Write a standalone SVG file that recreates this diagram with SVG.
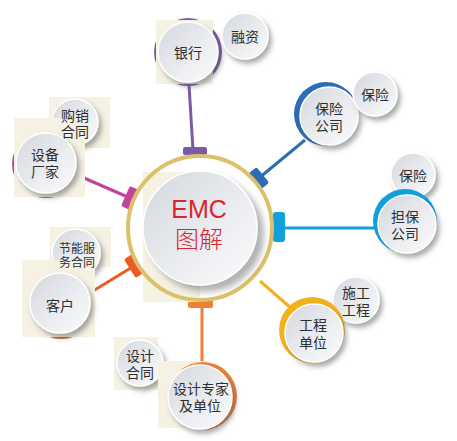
<svg xmlns="http://www.w3.org/2000/svg" width="457" height="441" viewBox="0 0 457 441">
<defs>
<linearGradient id="g" x1="0" y1="0" x2="1" y2="1">
<stop offset="0" stop-color="#d4d7dd"/>
<stop offset="0.6" stop-color="#eceef1"/>
<stop offset="1" stop-color="#fafbfc"/>
</linearGradient>
<filter id="sh" x="-30%" y="-30%" width="170%" height="170%">
<feDropShadow dx="3" dy="4" stdDeviation="2.5" flood-color="#555" flood-opacity="0.5"/>
</filter>
<filter id="shb" x="-30%" y="-30%" width="170%" height="170%">
<feDropShadow dx="6" dy="6" stdDeviation="3" flood-color="#666" flood-opacity="0.5"/>
</filter>
<clipPath id="cpA"><path clip-rule="evenodd" d="M0 0H457V441H0Z M14 118H85V197H14Z"/></clipPath>
<clipPath id="cpB"><path clip-rule="evenodd" d="M0 0H457V441H0Z M22 260H95V337H22Z"/></clipPath>
<clipPath id="cpC"><path clip-rule="evenodd" d="M0 0H457V441H0Z M158 361H208V428H158Z"/></clipPath>
<style>
.c{fill:url(#g);stroke:#fff;stroke-width:1.5;filter:url(#sh)}
.bg{fill:#f5f1e3}
.t{font-family:"Noto Sans CJK SC","Noto Sans",sans-serif;font-size:14px;fill:#2e2e2e;text-anchor:middle;dominant-baseline:central}
.s{font-size:12px}
.ln{stroke-width:3;fill:none}
</style>
</defs>

<g id="connectors">
<line class="ln" x1="189" y1="85" x2="193" y2="150" stroke="#7a5aa5"/>
<rect x="183" y="147" width="24" height="8" rx="2" fill="#7a5aa5"/>
<line class="ln" x1="305" y1="140" x2="259" y2="178" stroke="#2b6cb5"/>
<rect x="-5" y="-10" width="10" height="20" rx="2" fill="#2b6cb5" transform="translate(259 178) rotate(-39)"/>
<line class="ln" x1="284" y1="228" x2="375" y2="228" stroke="#12a0dc"/>
<rect x="273" y="212" width="12" height="30" rx="3" fill="#12a0dc"/>
<line class="ln" x1="260" y1="281" x2="292" y2="309" stroke="#f4b11e"/>
<line class="ln" x1="202" y1="306" x2="202" y2="365" stroke="#f08035"/>
<rect x="188" y="300" width="25" height="8" rx="2" fill="#f08035"/>
<line class="ln" x1="134" y1="266" x2="93" y2="291" stroke="#ee5a24"/>
<rect x="-5" y="-11" width="10" height="22" rx="2" fill="#ee5a24" transform="translate(134 266) rotate(-32)"/>
<line class="ln" x1="130" y1="198" x2="84" y2="178" stroke="#c2449a"/>
<rect x="-5" y="-11" width="10" height="22" rx="2" fill="#c2449a" transform="translate(130 198) rotate(24)"/>
</g>

<g id="center">
<circle cx="200" cy="228" r="72" fill="#fff"/>
<rect class="bg" x="143" y="172" width="57" height="130"/>
<circle cx="200" cy="228" r="72" fill="none" stroke="#dcc06a" stroke-width="4"/>
<circle cx="200" cy="228" r="57" fill="url(#g)" stroke="#fff" stroke-width="1.5" filter="url(#shb)"/>
<text text-anchor="middle" fill="#d9262e"><tspan x="199" y="218" font-family="'Liberation Sans',sans-serif" font-size="25">EMC</tspan><tspan x="199" y="248" font-family="'Noto Sans CJK SC',sans-serif" font-weight="300" font-size="24">图解</tspan></text>
</g>

<g id="bank">
<circle cx="188" cy="52" r="34" fill="#7a5aa5"/>
<rect class="bg" x="156" y="20" width="57" height="64"/>
<circle class="c" cx="188" cy="52" r="30"/>
<text class="t" x="188" y="52">银行</text>
</g>
<g id="financing">
<circle class="c" cx="245" cy="36" r="23"/>
<text class="t" x="245" y="36">融资</text>
</g>

<g id="insurance-company">
<circle cx="326" cy="114" r="32" fill="#2b6cb5"/>
<circle class="c" cx="329" cy="116" r="29"/>
<text class="t"><tspan x="329" y="108">保险</tspan><tspan x="329" y="125">公司</tspan></text>
</g>
<g id="insurance-1">
<circle class="c" cx="375" cy="94" r="22"/>
<text class="t" x="375" y="94">保险</text>
</g>

<g id="insurance-2">
<circle class="c" cx="413" cy="175" r="22"/>
<text class="t" x="413" y="175">保险</text>
</g>
<g id="guarantee-company">
<circle cx="405" cy="221" r="32" fill="#12a0dc"/>
<circle class="c" cx="407" cy="224" r="29"/>
<text class="t"><tspan x="405" y="216">担保</tspan><tspan x="405" y="233">公司</tspan></text>
</g>

<g id="construction">
<circle class="c" cx="356" cy="300" r="23"/>
<text class="t"><tspan x="356" y="292">施工</tspan><tspan x="356" y="309">工程</tspan></text>
</g>
<g id="engineering-unit">
<circle cx="312" cy="330" r="33" fill="#f4b11e"/>
<circle class="c" cx="314" cy="333" r="29"/>
<text class="t"><tspan x="313" y="324">工程</tspan><tspan x="313" y="342">单位</tspan></text>
</g>

<g id="design-expert">
<rect class="bg" x="158" y="361" width="50" height="67"/>
<circle cx="203" cy="396" r="34" fill="#f08035"/>
<circle class="c" cx="200" cy="397" r="32"/>
<text class="t"><tspan x="201" y="388">设计专家</tspan><tspan x="200" y="405">及单位</tspan></text>
</g>
<g id="design-contract">
<rect class="bg" x="114" y="337" width="44" height="53"/>
<circle class="c" cx="140" cy="363" r="23" clip-path="url(#cpC)"/>
<text class="t"><tspan x="140" y="355">设计</tspan><tspan x="140" y="372">合同</tspan></text>
</g>

<g id="customer">
<circle cx="61" cy="305" r="34" fill="#ee5a24"/>
<rect class="bg" x="22" y="260" width="73" height="77"/>
<circle class="c" cx="60" cy="303" r="30"/>
<text class="t" x="60" y="305">客户</text>
</g>
<g id="esco-contract">
<path class="bg" d="M50 227H111V267H95V260H50Z"/>
<circle class="c" cx="76" cy="253" r="24" clip-path="url(#cpB)"/>
<text class="t s"><tspan x="77" y="247">节能服</tspan><tspan x="77" y="261">务合同</tspan></text>
</g>

<g id="equipment-maker">
<circle cx="46" cy="164" r="34" fill="#c2449a"/>
<rect class="bg" x="14" y="118" width="71" height="79"/>
<circle class="c" cx="46" cy="163" r="30"/>
<text class="t"><tspan x="45" y="154">设备</tspan><tspan x="45" y="171">厂家</tspan></text>
</g>
<g id="purchase-contract">
<path class="bg" d="M49 97H110V148H85V118H49Z"/>
<circle class="c" cx="75" cy="122" r="23" clip-path="url(#cpA)"/>
<text class="t"><tspan x="75" y="115">购销</tspan><tspan x="75" y="131">合同</tspan></text>
</g>
</svg>
